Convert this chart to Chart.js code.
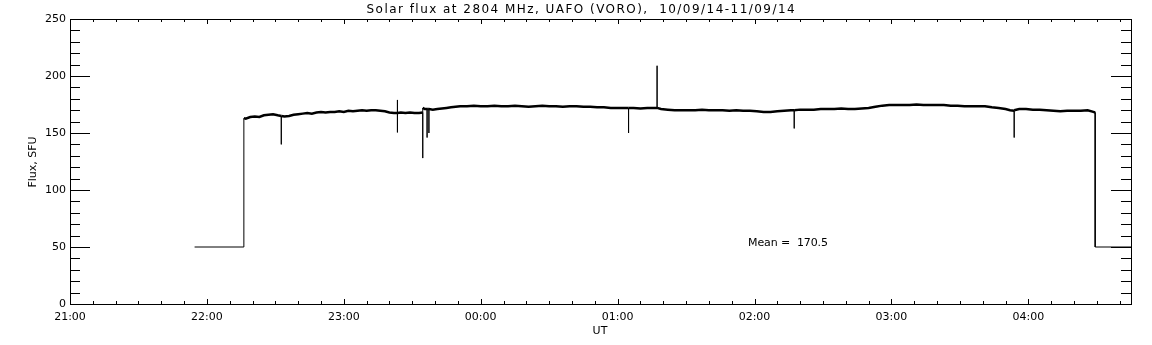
<!DOCTYPE html>
<html>
<head>
<meta charset="utf-8">
<script src="https://cdn.jsdelivr.net/npm/chart.js@4/dist/chart.umd.min.js"></script>
<style>
html, body { margin: 0; padding: 0; background: #fff; }
canvas { display: block; }
</style>
</head>
<body>
<canvas id="grafico" width="1152" height="345"></canvas>
<script>
// minutes after 21:00 UT
const minutes = [
54.6, 76.2, 76.2, 77, 79, 81, 83, 85, 87, 89, 91, 92.6, 92.6, 92.6, 94, 96, 98, 100,
102, 104, 106, 108, 110, 112, 114, 116, 118, 120, 122, 124, 126, 128, 130, 132, 134, 136,
138, 140, 142, 143.5, 143.5, 143.5, 143.5, 145, 147, 149, 151, 153, 154.6, 154.6, 154.6, 155.5,
156.5, 156.5, 156.5, 157.3, 157.3, 157.3, 159, 161, 163, 165, 167, 169, 171, 174, 177, 180,
183, 186, 189, 192, 195, 198, 201, 204, 207, 210, 213, 216, 219, 222, 225, 228, 231, 234,
237, 240, 243, 244.8, 244.8, 244.8, 247, 250, 253, 256, 257.3, 257.3, 257.3, 259, 262, 265,
268, 271, 274, 277, 280, 283, 286, 289, 292, 295, 298, 301, 304, 307, 310, 313, 316, 317.4,
317.4, 317.4, 320, 323, 326, 329, 332, 335, 338, 341, 344, 347, 350, 353, 356, 359, 362, 365,
368, 371, 374, 377, 380, 383, 386, 389, 392, 395, 398, 401, 404, 407, 410, 412, 413.8, 413.8,
413.8, 416, 419, 422, 425, 428, 431, 434, 437, 440, 443, 446, 448.5, 449.3, 449.3, 465
];

// flux, SFU
const flux = [
50, 50, 163, 162.5, 164, 164.5, 164, 165.5, 166, 166.5, 165.5, 165, 140, 165, 164.5, 165, 166, 166.5,
167, 167.5, 167, 168, 168.5, 168, 168.5, 168.5, 169, 168.5, 169.5, 169, 169.5, 170, 169.5, 170, 170, 169.5,
169, 168, 167.5, 167.5, 179, 150.5, 167.5, 168, 167.5, 168, 167.5, 167.5, 168, 128, 172, 171,
171, 146, 171, 171, 150, 171, 170.5, 171, 171.5, 172, 172.5, 173, 173.5, 173.5, 174, 173.5,
173.5, 174, 173.5, 173.5, 174, 173.5, 173, 173.5, 174, 173.5, 173.5, 173, 173.5, 173.5, 173, 173, 172.5, 172.5,
172, 172, 172, 172, 150, 172, 172, 171.5, 172, 172, 172, 209, 172, 171, 170.5, 170,
170, 170, 170, 170.5, 170, 170, 170, 169.5, 170, 169.5, 169.5, 169, 168.5, 168.5, 169, 169.5, 170, 170,
154, 170, 170.5, 170.5, 170.5, 171, 171, 171, 171.5, 171, 171, 171.5, 172, 173, 174, 174.5, 174.5, 174.5,
174.5, 175, 174.5, 174.5, 174.5, 174.5, 174, 174, 173.5, 173.5, 173.5, 173.5, 172.5, 172, 171, 170, 169.5, 146,
170, 171, 171, 170.5, 170.5, 170, 169.5, 169, 169.5, 169.5, 169.5, 170, 168.5, 168, 50, 50
];

const yTicks = [0, 50, 100, 150, 200, 250];
const hourLabels = ["21:00", "22:00", "23:00", "00:00", "01:00", "02:00", "03:00", "04:00"];

const titulo = "Solar flux at 2804 MHz, UAFO (VORO),  10/09/14-11/09/14";
const meanText = "Mean =  170.5";

const FONT = "DejaVu Sans";

function spacedText(ctx, text, x, y, target){
  ctx.letterSpacing = "0px";
  const w = ctx.measureText(text).width;
  const sp = (target - w) / (text.length - 1);
  ctx.letterSpacing = sp.toFixed(2) + "px";
  ctx.fillText(text, x, y);
  ctx.letterSpacing = "0px";
}

const molduraPlugin = {
  id: "moldura",
  afterDraw(chart){
    const ctx = chart.ctx;
    const a = chart.chartArea;
    const xs = chart.scales.x;
    const ys = chart.scales.y;
    ctx.save();
    ctx.strokeStyle = "#000";
    ctx.lineWidth = 1;
    ctx.strokeRect(a.left + 0.5, a.top + 0.5, a.right - a.left, a.bottom - a.top);

    ctx.beginPath();
    // x ticks every 10 min, inward, bottom and top
    for(let m = 0; m <= xs.max; m += 10){
      const px = Math.round(xs.getPixelForValue(m)) + 0.5;
      const len = (m % 60 === 0) ? 5 : 3;
      ctx.moveTo(px, a.bottom); ctx.lineTo(px, a.bottom - len);
      ctx.moveTo(px, a.top); ctx.lineTo(px, a.top + len);
    }
    // y ticks every 10, inward, left and right
    for(let v = 0; v <= ys.max; v += 10){
      const py = Math.round(ys.getPixelForValue(v)) + 0.5;
      const len = (v % 50 === 0) ? 20 : 10;
      ctx.moveTo(a.left, py); ctx.lineTo(a.left + len, py);
      ctx.moveTo(a.right, py); ctx.lineTo(a.right - len, py);
    }
    ctx.stroke();

    ctx.fillStyle = "#000";
    ctx.textBaseline = "middle";
    ctx.textAlign = "left";
    ctx.font = "12px '" + FONT + "'";
    spacedText(ctx, titulo, 366.5, 9.5, 428);
    ctx.font = "11px '" + FONT + "'";
    spacedText(ctx, meanText, 748, 243.5, 80);

    ctx.textAlign = "center";
    ctx.fillText("UT", 600, 331);

    ctx.translate(33, 162);
    ctx.rotate(-Math.PI / 2);
    ctx.fillText("Flux, SFU", 0, 0);
    ctx.restore();
  }
};

const pontos = minutes.map((m, i) => ({x: m, y: flux[i]}));

new Chart(document.getElementById("grafico"), {
  type: "line",
  data: {
    datasets: [{
      data: pontos,
      borderColor: "#000",
      borderWidth: 2.5,
      pointRadius: 0,
      tension: 0,
      fill: false,
      segment: {
        // spikes, jumps and the 50 SFU floor are thin in the original
        borderWidth: c => (c.p0.parsed.x === c.p1.parsed.x || c.p0.parsed.y < 100 ? 1 : 2.5)
      }
    }]
  },
  options: {
    responsive: false,
    animation: false,
    devicePixelRatio: 1,
    layout: { padding: { top: 19, right: 21, left: 0, bottom: 0 } },
    plugins: { legend: { display: false }, tooltip: { enabled: false } },
    scales: {
      x: {
        type: "linear",
        min: 0,
        max: 465,
        grid: { display: false, drawTicks: false },
        border: { display: false },
        afterFit: s => { s.height = 41; },
        afterBuildTicks: s => { s.ticks = hourLabels.map((h, i) => ({value: i * 60})); },
        ticks: {
          padding: 7,
          color: "#000",
          maxRotation: 0,
          autoSkip: false,
          font: { family: FONT, size: 11 },
          callback: (v, i) => hourLabels[i]
        }
      },
      y: {
        min: 0,
        max: 250,
        grid: { display: false, drawTicks: false },
        border: { display: false },
        afterFit: s => { s.width = 70; },
        afterBuildTicks: s => { s.ticks = yTicks.map(v => ({value: v})); },
        ticks: {
          padding: 4,
          color: "#000",
          font: { family: FONT, size: 11 }
        }
      }
    }
  },
  plugins: [molduraPlugin]
});
</script>
</body>
</html>
